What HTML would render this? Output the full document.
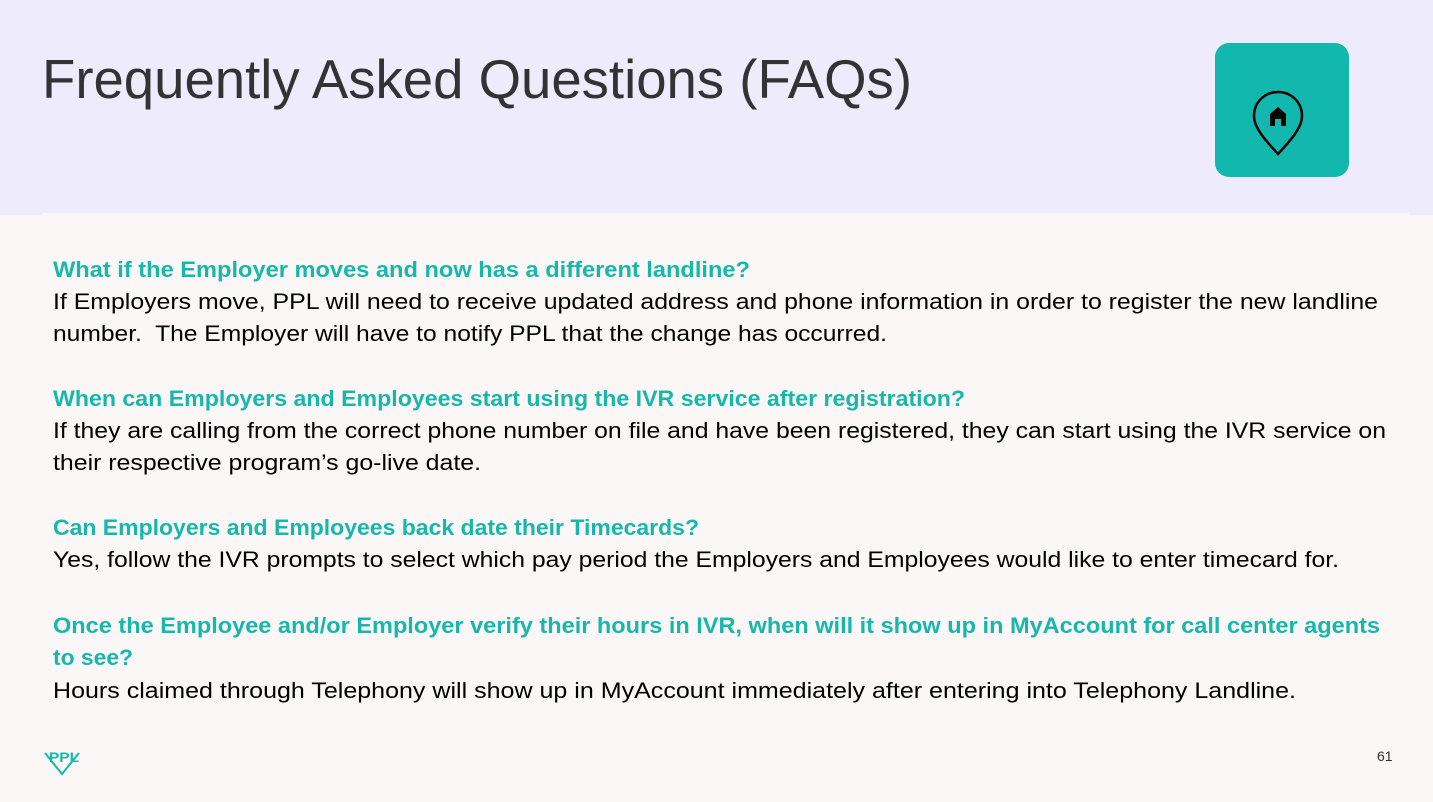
<!DOCTYPE html>
<html><head><meta charset="utf-8"><style>
html,body{margin:0;padding:0;background:#FBF7F6;}
svg{display:block;}
</style></head><body>
<svg width="1433" height="802" viewBox="0 0 1433 802" xmlns="http://www.w3.org/2000/svg">
<rect x="0" y="0" width="1433" height="802" fill="#FBF7F6"/>
<rect x="0" y="0" width="1433" height="215" fill="#EEEBFC"/>
<rect x="42" y="213" width="1367" height="3" fill="#FBF7F6"/>
<text x="42" y="98" font-family="Liberation Sans, sans-serif" font-size="55" fill="#333333" textLength="870" lengthAdjust="spacingAndGlyphs">Frequently Asked Questions (FAQs)</text>
<g>
<rect x="1215" y="43" width="134" height="134" rx="14" fill="#12B8AD"/>
<path d="M1278,92 C1265,92 1254,102 1254,116 C1254,128 1266,141 1278,154 C1290,141 1302,128 1302,116 C1302,102 1291,92 1278,92 Z" fill="none" stroke="#000" stroke-width="2.5"/>
<path d="M1270,126 L1270,114 L1278,107 L1286,114 L1286,126 L1281,126 L1281,119 L1275,119 L1275,126 Z" fill="#000"/>
</g>
<g font-family="Liberation Sans, sans-serif" font-size="22">
<text x="53" y="277" fill="#17B8AC" font-weight="bold" textLength="697" lengthAdjust="spacingAndGlyphs">What if the Employer moves and now has a different landline?</text>
<text x="53" y="309" fill="#000" textLength="1325" lengthAdjust="spacingAndGlyphs">If Employers move, PPL will need to receive updated address and phone information in order to register the new landline</text>
<text x="53" y="341" fill="#000" textLength="834" lengthAdjust="spacingAndGlyphs" xml:space="preserve">number.  The Employer will have to notify PPL that the change has occurred.</text>
<text x="53" y="406" fill="#17B8AC" font-weight="bold" textLength="912" lengthAdjust="spacingAndGlyphs">When can Employers and Employees start using the IVR service after registration?</text>
<text x="53" y="438" fill="#000" textLength="1333" lengthAdjust="spacingAndGlyphs">If they are calling from the correct phone number on file and have been registered, they can start using the IVR service on</text>
<text x="53" y="470" fill="#000" textLength="428" lengthAdjust="spacingAndGlyphs">their respective program’s go-live date.</text>
<text x="53" y="535" fill="#17B8AC" font-weight="bold" textLength="646" lengthAdjust="spacingAndGlyphs">Can Employers and Employees back date their Timecards?</text>
<text x="53" y="567" fill="#000" textLength="1286" lengthAdjust="spacingAndGlyphs">Yes, follow the IVR prompts to select which pay period the Employers and Employees would like to enter timecard for.</text>
<text x="53" y="633" fill="#17B8AC" font-weight="bold" textLength="1327" lengthAdjust="spacingAndGlyphs">Once the Employee and/or Employer verify their hours in IVR, when will it show up in MyAccount for call center agents</text>
<text x="53" y="665" fill="#17B8AC" font-weight="bold" textLength="80" lengthAdjust="spacingAndGlyphs">to see?</text>
<text x="53" y="698" fill="#000" textLength="1243" lengthAdjust="spacingAndGlyphs">Hours claimed through Telephony will show up in MyAccount immediately after entering into Telephony Landline.</text>
</g>
<g>
<path d="M45,753 L62,774 L79,753" fill="none" stroke="#17B8AC" stroke-width="2"/>
<text x="49" y="762" font-family="Liberation Sans, sans-serif" font-size="14" font-weight="bold" fill="#17B8AC" textLength="30" lengthAdjust="spacingAndGlyphs">PPL</text>
</g>
<text x="1377" y="761" font-family="Liberation Sans, sans-serif" font-size="14" fill="#333">61</text>
</svg>
</body></html>
